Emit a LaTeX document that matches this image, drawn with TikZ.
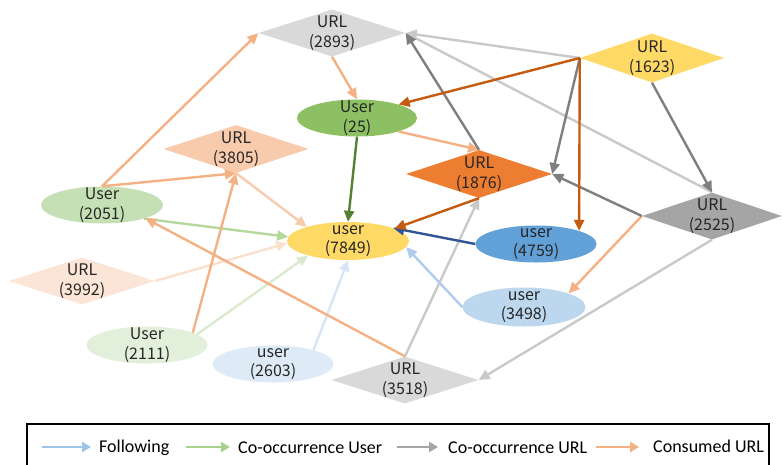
\documentclass[tikz,border=0pt]{standalone}
\usepackage{fontspec}
\setmainfont{Noto Sans CJK SC}
\newfontfamily\legfont{Carlito}
\usetikzlibrary{shapes.geometric,arrows.meta}
\definecolor{cGrayL}{HTML}{D9D9D9}
\definecolor{cYellow}{HTML}{FFD966}
\definecolor{cGreenM}{HTML}{8CC063}
\definecolor{cOrangeL}{HTML}{F8CBAD}
\definecolor{cOrange}{HTML}{ED7D31}
\definecolor{cGreenL}{HTML}{C5E0B4}
\definecolor{cGrayD}{HTML}{A5A5A5}
\definecolor{cBlue}{HTML}{62A0D8}
\definecolor{cBlueL}{HTML}{BDD7EE}
\definecolor{cOrangeXL}{HTML}{FBE5D6}
\definecolor{cGreenXL}{HTML}{E2EFDA}
\definecolor{cBlueXL}{HTML}{DEEBF7}
\definecolor{eOrange}{HTML}{F4B183}
\definecolor{eOrangeL}{HTML}{F8CBAD}
\definecolor{eOrangeXL}{HTML}{FBE0CE}
\definecolor{eOrangeD}{HTML}{C55A11}
\definecolor{eGreenD}{HTML}{548235}
\definecolor{eGreenL}{HTML}{B5D99D}
\definecolor{eGreenXL}{HTML}{DAEACF}
\definecolor{eBlueD}{HTML}{2F5597}
\definecolor{eBlueL}{HTML}{AFCDEB}
\definecolor{eBlueXL}{HTML}{D6E6F6}
\definecolor{eGray}{HTML}{7F7F7F}
\definecolor{eGrayL}{HTML}{C9C9C9}
\definecolor{lBlue}{HTML}{9DC3E6}
\definecolor{lGreen}{HTML}{A9D18E}
\definecolor{lGray}{HTML}{A5A5A5}
\definecolor{txtc}{HTML}{262626}
\tikzset{
  unode/.style={ellipse, draw=none, inner sep=0pt, minimum width=121pt, minimum height=37pt},
  dnode/.style={diamond, draw=none, inner sep=0pt, minimum width=146pt, minimum height=47pt},
  ntext/.style={align=center, font=\fontsize{16}{19.5}\selectfont, text=txtc, inner sep=0pt},
  edge/.style={line width=2.4pt, -{Triangle[length=11pt,width=10pt]}},
  legarrow/.style={line width=2.6pt, -{Triangle[length=9pt,width=10pt]}},
  legtext/.style={anchor=west, font=\legfont\fontsize{18}{20}\selectfont, text=black, inner sep=0pt}
}
\begin{document}
\begin{tikzpicture}[x=1pt,y=-1pt]
\useasboundingbox (0,0) rectangle (782,464);
% nodes
\node[dnode, fill=cGrayL, minimum width=147pt] (d2893) at (332,33) {};
\node[dnode, fill=cYellow, minimum width=144pt, minimum height=49pt] (d1623) at (652,58) {};
\node[unode, fill=cGreenM, minimum width=120pt] (u25) at (357,118) {};
\node[dnode, fill=cOrangeL, minimum width=145pt, minimum height=48pt] (d3805) at (236,149) {};
\node[dnode, fill=cOrange, minimum height=48pt] (d1876) at (479,174) {};
\node[unode, fill=cGreenL, minimum width=122pt] (u2051) at (102,205) {};
\node[unode, fill=cYellow, minimum width=122pt, minimum height=38pt] (u7849) at (348,241) {};
\node[dnode, fill=cGrayD, minimum width=140pt] (d2525) at (712,216) {};
\node[unode, fill=cBlue] (u4759) at (536,244) {};
\node[unode, fill=cBlueL, minimum width=123pt, minimum height=39pt] (u3498) at (524,307) {};
\node[dnode, fill=cOrangeXL] (d3992) at (82,281) {};
\node[unode, fill=cGreenXL] (u2111) at (147,345) {};
\node[unode, fill=cBlueXL] (u2603) at (273,364) {};
\node[dnode, fill=cGrayL, minimum width=147pt] (d3518) at (405,380) {};
% texts
\node[ntext] (t2893) at (d2893) {URL\\(2893)};
\node[ntext] (t1623) at (d1623) {URL\\(1623)};
\node[ntext] (t25) at (u25) {User\\(25)};
\node[ntext] (t3805) at (d3805) {URL\\(3805)};
\node[ntext] (t1876) at (d1876) {URL\\(1876)};
\node[ntext] (t2051) at (u2051) {User\\(2051)};
\node[ntext] (t7849) at (u7849) {user\\(7849)};
\node[ntext] (t2525) at (d2525) {URL\\(2525)};
\node[ntext] (t4759) at (u4759) {user\\(4759)};
\node[ntext] (t3498) at (u3498) {user\\(3498)};
\node[ntext] (t3992) at (d3992) {URL\\(3992)};
\node[ntext] (t2111) at (u2111) {User\\(2111)};
\node[ntext] (t2603) at (u2603) {user\\(2603)};
\node[ntext] (t3518) at (d3518) {URL\\(3518)};
% edges
\draw[edge, eGrayL] (d1623.west) -- (d2893.east);
\draw[edge, eGrayL] (d2525.north) -- (d2893.east);
\draw[edge, eGrayL] (d3518.north) -- (d1876.south);
\draw[edge, eGrayL] (d2525.south) -- (d3518.east);
\draw[edge, eOrangeXL] (d3992.east) -- (u7849.182);
\draw[edge, eGreenXL] (u2111.12) -- (u7849.200);
\draw[edge, eBlueXL] (u2603.19) -- (u7849.south);
\draw[edge, eOrangeL] (d3805.south) -- (u7849.161);
\draw[edge, eGreenL] (u2051.-18) -- (u7849.176);
\draw[edge, eOrange] (u2051.north) -- (d2893.west);
\draw[edge, eOrange] (u2051.north) -- (d3805.south);
\draw[edge, eOrange] (u2111.15) -- (d3805.south);
\draw[edge, eOrange] (d3518.north) -- (u2051.-17);
\draw[edge, eOrange] (d2893.south) -- (u25.north);
\draw[edge, eOrange] (u25.-18) -- (d1876.north);
\draw[edge, eOrange] (d2525.west) -- (u3498.17);
\draw[edge, eBlueL] (u3498.west) -- (u7849.-6);
\draw[edge, eGreenD] (u25.south) -- (u7849.north);
\draw[edge, eBlueD] (u4759.west) -- (u7849.16);
\draw[edge, eOrangeD] (d1876.south) -- (u7849.15);
\draw[edge, eGray] (d1876.north) -- (d2893.east);
\draw[edge, eGray] (d1623.west) -- (d1876.east);
\draw[edge, eGray] (d2525.west) -- (d1876.east);
\draw[edge, eGray] (d1623.south) -- (d2525.north);
\draw[edge, eOrangeD] (d1623.west) -- (u25.18);
\draw[edge, eOrangeD] (d1623.west) -- (u4759.17);
% legend
\draw[line width=1.3pt] (27,470) -- (27,424) -- (769,424) -- (769,470);
\coordinate (la1) at (42,447); \coordinate (lb1) at (91,447);
\coordinate (la2) at (186,447); \coordinate (lb2) at (230,447);
\coordinate (la3) at (397,447); \coordinate (lb3) at (438,447);
\coordinate (la4) at (596,447); \coordinate (lb4) at (639,447);
\draw[legarrow, lBlue] (la1) -- (lb1);
\draw[legarrow, lGreen] (la2) -- (lb2);
\draw[legarrow, lGray] (la3) -- (lb3);
\draw[legarrow, eOrange] (la4) -- (lb4);
\node[legtext] (lt1) at (99,448) {Following};
\node[legtext] (lt2) at (238,448) {Co-occurrence User};
\node[legtext] (lt3) at (448,448) {Co-occurrence URL};
\node[legtext] (lt4) at (653,446) {Consumed URL};
\end{tikzpicture}
\end{document}
